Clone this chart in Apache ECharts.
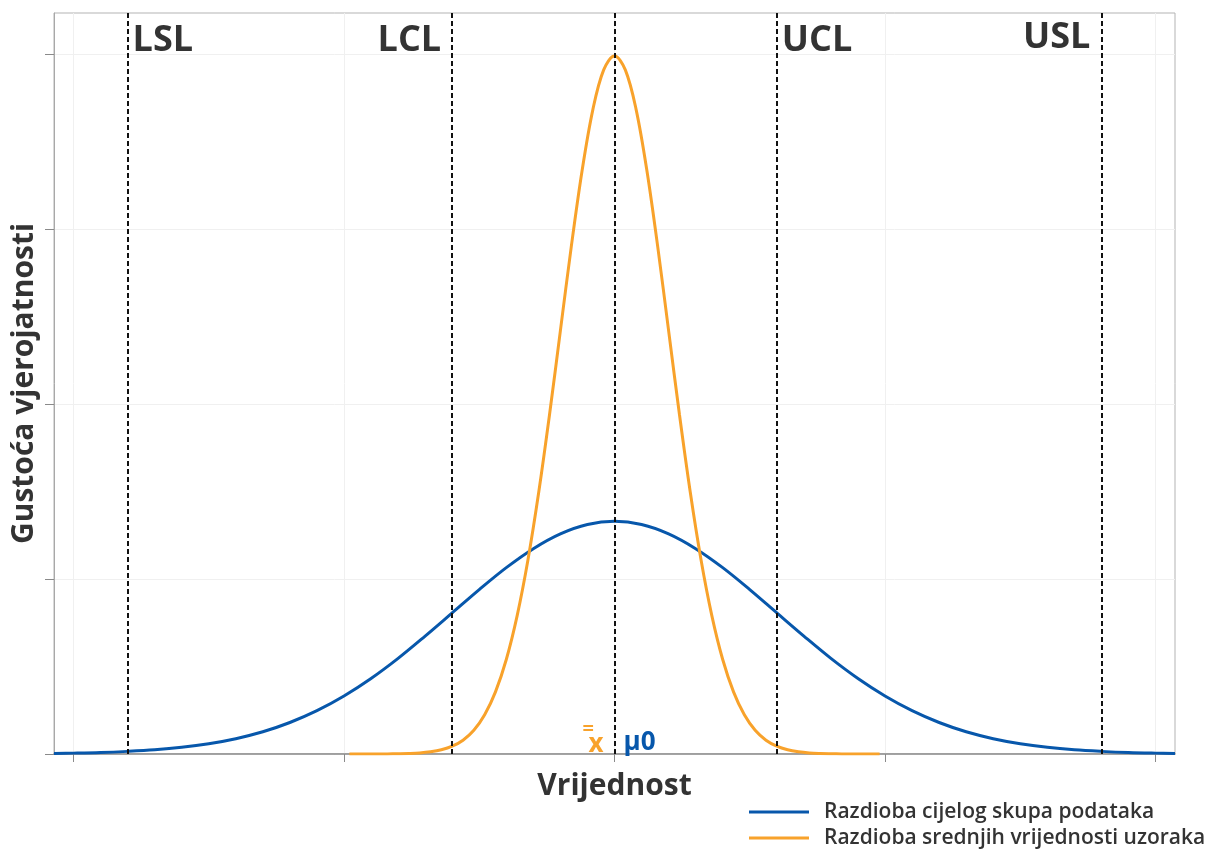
<!DOCTYPE html>
<html>
<head>
<meta charset="utf-8">
<script src="https://cdn.jsdelivr.net/npm/echarts@6/dist/echarts.min.js"></script>
<style>
  html, body { margin: 0; padding: 0; background: #fff; }
  #chart { width: 1211px; height: 850px; }
</style>
</head>
<body>
<div id="chart"></div>
<script>
// whole population density
const blueX = [-5.18, -5, -4.75, -4.5, -4.25, -4, -3.75, -3.5, -3.25, -3, -2.75, -2.5, -2.25, -2, -1.75, -1.5, -1.25, -1, -0.75, -0.5, -0.25,
  0, 0.25, 0.5, 0.75, 1, 1.25, 1.5, 1.75, 2, 2.25, 2.5, 2.75, 3, 3.25, 3.5, 3.75, 4, 4.25, 4.5, 4.75, 5, 5.18];
const blueY = [0.0007, 0.0010, 0.0017, 0.0030, 0.0048, 0.0076, 0.0117, 0.0175, 0.0254, 0.0360, 0.0495, 0.0663, 0.0863, 0.1093, 0.1348, 0.1613, 0.1879, 0.2130, 0.2347, 0.2516, 0.2623,
  0.2660, 0.2623, 0.2516, 0.2347, 0.2130, 0.1879, 0.1613, 0.1348, 0.1093, 0.0863, 0.0663, 0.0495, 0.0360, 0.0254, 0.0175, 0.0117, 0.0076, 0.0048, 0.0030, 0.0017, 0.0010, 0.0007];

// sample means density
const orangeX = [-2.45, -2.3, -2.2, -2.1, -2, -1.9, -1.8, -1.7, -1.6, -1.5, -1.4, -1.3, -1.2, -1.1, -1, -0.9, -0.8, -0.7, -0.6, -0.5, -0.4, -0.3, -0.2, -0.1,
  0, 0.1, 0.2, 0.3, 0.4, 0.5, 0.6, 0.7, 0.8, 0.9, 1, 1.1, 1.2, 1.3, 1.4, 1.5, 1.6, 1.7, 1.8, 1.9, 2, 2.1, 2.2, 2.3, 2.45];
const orangeY = [0, 0, 0, 0.0001, 0.0003, 0.0006, 0.0012, 0.0025, 0.0048, 0.0089, 0.0158, 0.0271, 0.0448, 0.0710, 0.1080, 0.1579, 0.2218, 0.2995, 0.3884, 0.4839, 0.5794, 0.6664, 0.7366, 0.7820,
  0.7979, 0.7820, 0.7366, 0.6664, 0.5794, 0.4839, 0.3884, 0.2995, 0.2218, 0.1579, 0.1080, 0.0710, 0.0448, 0.0271, 0.0158, 0.0089, 0.0048, 0.0025, 0.0012, 0.0006, 0.0003, 0.0001, 0, 0, 0];

const limitNames = ['LSL', 'LCL', 'UCL', 'USL'];
const limitValues = [-4.5, -1.5, 1.5, 4.5];
const centerValue = 0;

const xTicks = [-5, -2.5, 0, 2.5, 5];
const yTicks = [0, 0.2, 0.4, 0.6, 0.8];

const seriesNames = ['Razdioba cijelog skupa podataka', 'Razdioba srednjih vrijednosti uzoraka'];

const BLUE = '#0757ab';
const ORANGE = '#f8a22b';
const TEXT = '#333333';
const FONT = '"Open Sans", "Noto Sans", sans-serif';

const chart = echarts.init(document.getElementById('chart'), null, { renderer: 'canvas' });

const limitLabels = limitNames.map((name, i) => {
  const right = i % 2 === 0;
  return {
    coord: [limitValues[i], i === 3 ? 0.819 : 0.815],
    symbolSize: 0,
    label: {
      show: true,
      formatter: name,
      position: right ? 'right' : 'left',
      distance: right ? 5 : 11,
      fontSize: 36,
      fontWeight: 'bold',
      fontFamily: FONT,
      color: TEXT
    }
  };
});

const option = {
  animation: false,
  textStyle: { fontFamily: FONT },
  grid: {
    left: 54,
    right: 36,
    top: 13,
    bottom: 96,
    show: true,
    borderColor: '#b3b3b3',
    borderWidth: 1
  },
  legend: {
    data: seriesNames,
    orient: 'vertical',
    icon: 'rect',
    left: 749,
    top: 801,
    padding: 0,
    itemGap: 4,
    itemWidth: 60,
    itemHeight: 3,
    textStyle: {
      fontSize: 21,
      fontWeight: 600,
      color: TEXT,
      fontFamily: FONT,
      lineHeight: 22,
      padding: [0, 0, 0, 10]
    }
  },
  xAxis: {
    type: 'value',
    min: -5.18,
    max: 5.18,
    name: 'Vrijednost',
    nameLocation: 'middle',
    nameGap: 17,
    nameTextStyle: { fontSize: 30, fontWeight: 'bold', color: TEXT, fontFamily: FONT },
    axisLine: { show: true, onZero: false, lineStyle: { color: '#8a8a8a', width: 1.5 } },
    axisTick: { show: true, length: 8, customValues: xTicks, lineStyle: { color: '#8a8a8a' } },
    axisLabel: { show: false },
    splitLine: { show: true, lineStyle: { color: '#f0f0f0', width: 1 } }
  },
  yAxis: {
    type: 'value',
    min: 0,
    max: 0.847,
    name: 'Gustoća vjerojatnosti',
    nameLocation: 'middle',
    nameGap: 15,
    nameTextStyle: { fontSize: 30, fontWeight: 'bold', color: TEXT, fontFamily: FONT },
    axisLine: { show: true, onZero: false, lineStyle: { color: '#a8a8a8', width: 1 } },
    axisTick: { show: true, length: 9, customValues: yTicks, lineStyle: { color: '#8a8a8a' } },
    axisLabel: { show: false },
    splitLine: { show: true, lineStyle: { color: '#f0f0f0', width: 1 } }
  },
  series: [
    {
      name: seriesNames[0],
      type: 'line',
      smooth: 0.35,
      symbol: 'none',
      color: BLUE,
      lineStyle: { width: 3, color: BLUE },
      data: blueX.map((x, i) => [x, blueY[i]]),
      z: 3
    },
    {
      name: seriesNames[1],
      type: 'line',
      smooth: 0.35,
      symbol: 'none',
      color: ORANGE,
      lineStyle: { width: 3, color: ORANGE },
      data: orangeX.map((x, i) => [x, orangeY[i]]),
      z: 4
    },
    {
      name: 'limits',
      type: 'line',
      data: [],
      z: 6,
      markLine: {
        silent: true,
        symbol: ['none', 'none'],
        label: { show: false },
        lineStyle: { color: '#111', type: [5, 3], width: 2 },
        data: limitValues.concat(centerValue).map(v => ({ xAxis: v }))
      },
      markPoint: {
        silent: true,
        symbol: 'circle',
        data: limitLabels.concat([
          {
            coord: [centerValue, 0],
            symbolSize: 0,
            label: { show: true, formatter: 'x', position: [-26, -22], fontSize: 26, lineHeight: 26, fontWeight: 'bold', color: ORANGE, fontFamily: FONT }
          },
          {
            coord: [centerValue, 0],
            symbolSize: 0,
            label: { show: true, formatter: '=', position: [-32, -35], fontSize: 20, lineHeight: 20, fontWeight: 'bold', color: ORANGE, fontFamily: FONT }
          },
          {
            coord: [centerValue, 0],
            symbolSize: 0,
            label: { show: true, formatter: 'μ0', position: [9, -24], fontSize: 26, lineHeight: 26, fontWeight: 'bold', color: BLUE, fontFamily: FONT }
          }
        ])
      }
    }
  ]
};

chart.setOption(option);
</script>
</body>
</html>
